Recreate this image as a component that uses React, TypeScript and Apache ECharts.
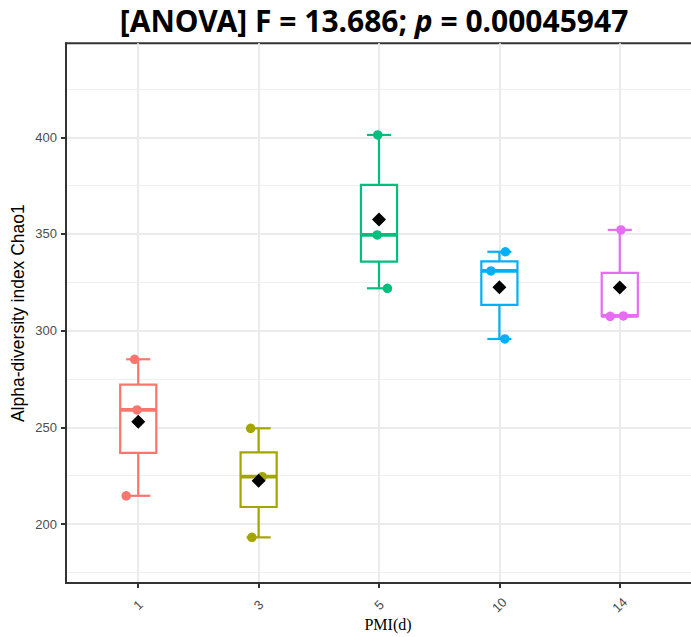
import { useEffect, useRef } from "react";
import * as echarts from "echarts";

const groups = ["1", "3", "5", "10", "14"];
const groupColors = ["#F8766D", "#A3A500", "#00BF7D", "#00B0F6", "#E76BF3"];
const chao1Values = [
  [285.2, 259.0, 214.6],
  [249.5, 224.5, 193.1],
  [401.2, 349.5, 321.9],
  [340.8, 330.9, 295.7],
  [352.1, 307.4, 307.6],
];
const jitterOffsets = [
  [-0.03, -0.01, -0.1],
  [-0.066, 0.03, -0.056],
  [-0.01, -0.015, 0.07],
  [0.05, -0.07, 0.045],
  [0.01, -0.08, 0.03],
];
const yTicks = [200, 250, 300, 350, 400];
const yMinorGrid = [175, 225, 275, 325, 375, 425];
const xTicks = [1, 2, 3, 4, 5];
const yRange = [169.5, 448.6];
const xRange = [0.4, 5.6];

function quantile(sorted: number[], p: number) {
  const h = (sorted.length - 1) * p;
  const lo = Math.floor(h);
  const hi = Math.ceil(h);
  return sorted[lo] + (h - lo) * (sorted[hi] - sorted[lo]);
}

function boxStats(vals: number[], x: number) {
  const s = [...vals].sort((a, b) => a - b);
  const q1 = quantile(s, 0.25);
  const med = quantile(s, 0.5);
  const q3 = quantile(s, 0.75);
  const iqr = q3 - q1;
  const lo = Math.min(...s.filter((v) => v >= q1 - 1.5 * iqr));
  const hi = Math.max(...s.filter((v) => v <= q3 + 1.5 * iqr));
  return [x, lo, q1, med, q3, hi];
}

export default function App() {
  const ref = useRef<HTMLDivElement>(null);
  useEffect(() => {
    if (!ref.current) return;
    const chart = echarts.init(ref.current, null, { renderer: "svg" });

    const boxData = chao1Values.map((vals, i) => boxStats(vals, i + 1));
    const pointData: any[] = [];
    chao1Values.forEach((vals, i) =>
      vals.forEach((v, j) =>
        pointData.push({
          value: [i + 1 + jitterOffsets[i][j], v],
          itemStyle: { color: groupColors[i], opacity: 1 },
        })
      )
    );
    const meanData = chao1Values.map((vals, i) => [
      i + 1,
      vals.reduce((a, b) => a + b, 0) / vals.length,
    ]);

    const gridLines = [
      ...yMinorGrid.map((v) => ({ yAxis: v, lineStyle: { width: 1, color: "#EFEFEF", type: "solid" } })),
      ...yTicks.map((v) => ({ yAxis: v, lineStyle: { width: 2, color: "#EBEBEB", type: "solid" } })),
      ...xTicks.map((v) => ({ xAxis: v, lineStyle: { width: 2, color: "#EBEBEB", type: "solid" } })),
    ];

    chart.setOption({
      animation: false,
      title: {
        text: "{a|[ANOVA] F = 13.686; }{b|p}{a| = 0.00045947}",
        left: 369,
        top: 0,
        textAlign: "center",
        textStyle: {
          rich: {
            a: { fontFamily: "Noto Sans", fontWeight: "bold", fontSize: 30, color: "#000" },
            b: { fontFamily: "Noto Sans", fontWeight: "bold", fontStyle: "italic", fontSize: 30, color: "#000" },
          },
        },
      },
      grid: {
        left: 66,
        top: 43.3,
        width: 626,
        height: 539.7,
        outerBoundsMode: "none",
        containLabel: false,
        show: true,
        borderColor: "#333",
        borderWidth: 2,
        backgroundColor: "#fff",
      },
      xAxis: {
        type: "value",
        min: xRange[0],
        max: xRange[1],
        z: 10,
        name: "PMI(d)",
        nameLocation: "middle",
        nameGap: 33,
        nameMoveOverlap: false,
        nameTextStyle: {
          fontFamily: "Liberation Serif",
          fontSize: 16,
          color: "#000",
          padding: [0, 0, 0, 18],
        },
        axisLine: { show: true, onZero: false, lineStyle: { color: "#333", width: 2 } },
        axisTick: { show: true, length: 5, customValues: xTicks, lineStyle: { color: "#333", width: 2 } },
        axisLabel: {
          customValues: xTicks,
          rotate: 45,
          margin: 22,
          align: "center",
          verticalAlign: "middle",
          fontFamily: "Liberation Sans",
          fontSize: 13,
          color: "#4D4D4D",
          formatter: (v: number) => groups[Math.round(v) - 1] ?? "",
        },
        splitLine: { show: false },
      },
      yAxis: {
        type: "value",
        min: yRange[0],
        max: yRange[1],
        z: 10,
        name: "Alpha-diversity index Chao1",
        nameLocation: "middle",
        nameGap: 39,
        nameMoveOverlap: false,
        nameTextStyle: { fontFamily: "Liberation Sans", fontSize: 17.5, color: "#000" },
        axisLine: { show: true, onZero: false, lineStyle: { color: "#333", width: 2 } },
        axisTick: { show: true, length: 5, customValues: yTicks, lineStyle: { color: "#333", width: 2 } },
        axisLabel: {
          customValues: yTicks,
          margin: 9,
          fontFamily: "Liberation Sans",
          fontSize: 13,
          color: "#4D4D4D",
        },
        splitLine: { show: false },
      },
      series: [
        {
          type: "scatter",
          z: 1,
          data: [],
          silent: true,
          markLine: {
            z: 1,
            silent: true,
            symbol: "none",
            label: { show: false },
            data: gridLines,
          },
        },
        {
          type: "custom",
          z: 3,
          data: boxData,
          encode: { x: 0, y: [1, 2, 3, 4, 5] },
          renderItem: (params: any, api: any) => {
            const x = api.value(0);
            const lo = api.coord([x, api.value(1)]);
            const q1 = api.coord([x, api.value(2)]);
            const med = api.coord([x, api.value(3)]);
            const q3 = api.coord([x, api.value(4)]);
            const hi = api.coord([x, api.value(5)]);
            const halfBox = api.size([0.3, 0])[0] / 2;
            const halfCap = api.size([0.2, 0])[0] / 2;
            const color = groupColors[params.dataIndex];
            const ls = { stroke: color, lineWidth: 2.2, fill: null };
            return {
              type: "group",
              children: [
                { type: "line", shape: { x1: lo[0], y1: lo[1], x2: q1[0], y2: q1[1] }, style: ls },
                { type: "line", shape: { x1: hi[0], y1: hi[1], x2: q3[0], y2: q3[1] }, style: ls },
                { type: "line", shape: { x1: lo[0] - halfCap, y1: lo[1], x2: lo[0] + halfCap, y2: lo[1] }, style: ls },
                { type: "line", shape: { x1: hi[0] - halfCap, y1: hi[1], x2: hi[0] + halfCap, y2: hi[1] }, style: ls },
                {
                  type: "rect",
                  shape: { x: q3[0] - halfBox, y: q3[1], width: 2 * halfBox, height: q1[1] - q3[1] },
                  style: { fill: "#fff", stroke: color, lineWidth: 2.2 },
                },
                {
                  type: "line",
                  shape: { x1: med[0] - halfBox, y1: med[1], x2: med[0] + halfBox, y2: med[1] },
                  style: { stroke: color, lineWidth: 3.8 },
                },
              ],
            };
          },
        },
        {
          type: "scatter",
          z: 4,
          symbol: "circle",
          symbolSize: 9.5,
          itemStyle: { opacity: 1 },
          data: pointData,
        },
        {
          type: "scatter",
          z: 5,
          symbol: "diamond",
          symbolSize: 14,
          itemStyle: { color: "#000", opacity: 1 },
          data: meanData,
        },
      ],
    });
    return () => chart.dispose();
  }, []);
  return (
    <div
      ref={ref}
      style={{ position: "absolute", left: 0, top: 0, width: 691, height: 637, background: "#fff" }}
    />
  );
}
